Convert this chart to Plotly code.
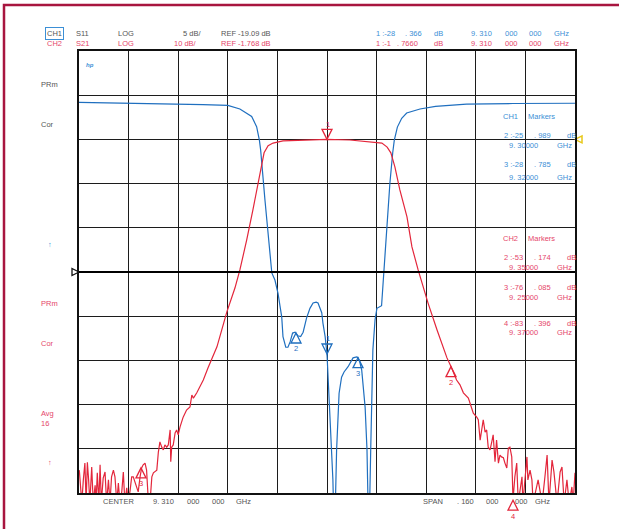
import plotly.graph_objects as go

# ---------------- data ----------------
center_ghz = 9.31
span_ghz = 0.16
ch1_ref_db, ch1_scale = -19.09, 5      # S11, 5 dB/div, ref at div 5 from top
ch2_ref_db, ch2_scale = -1.768, 10     # S21, 10 dB/div, ref at div 2 from top

s11_freq = [9.2300, 9.2400, 9.2500, 9.2600, 9.2700, 9.2780, 9.2819, 9.2857, 9.2873, 9.2882,
            9.2886, 9.2900, 9.2914, 9.2922, 9.2932, 9.2942, 9.2954, 9.2958, 9.2967, 9.2974,
            9.2981, 9.2989, 9.2997, 9.3006, 9.3015, 9.3023, 9.3034, 9.3045, 9.3055, 9.3065,
            9.3071, 9.3083, 9.3087, 9.3094, 9.3100, 9.3106, 9.3113, 9.3119, 9.3124, 9.3131,
            9.3139, 9.3147, 9.3155, 9.3168, 9.3184, 9.3196, 9.3200, 9.3206, 9.3212, 9.3223,
            9.3229, 9.3235, 9.3241, 9.3248, 9.3255, 9.3261, 9.3276, 9.3281, 9.3289, 9.3293,
            9.3303, 9.3312, 9.3317, 9.3327, 9.3341, 9.3357, 9.3400, 9.3450, 9.3550, 9.3700,
            9.3900]
s11_db = [0.10, 0.05, 0.00, -0.05, -0.15, -0.25, -0.65, -1.5, -2.65, -4.2,
          -5.3, -11.0, -16.6, -19.2, -20.0, -21.5, -24.2, -26.4, -27.6, -27.6,
          -27.0, -26.0, -25.9, -26.3, -26.4, -25.9, -24.3, -23.2, -22.6, -22.5,
          -22.6, -23.7, -24.9, -26.4, -28.37, -32.4, -38.1, -42.6, -50.0, -39.2,
          -32.8, -31.0, -30.4, -29.8, -28.8, -28.7, -28.79, -29.3, -30.2, -34.4,
          -39.2, -50.0, -39.2, -27.9, -24.5, -23.2, -22.9, -20.3, -16.6, -14.7,
          -9.0, -5.6, -4.2, -2.7, -1.7, -1.1, -0.65, -0.35, -0.1, -0.03,
          0.0]

s21_freq = [9.2301, 9.2309, 9.2314, 9.2319, 9.2323, 9.2327, 9.2331, 9.2335, 9.2341, 9.2346,
            9.2352, 9.2355, 9.2359, 9.2364, 9.2368, 9.2372, 9.2378, 9.2384, 9.2389, 9.2395,
            9.2400, 9.2405, 9.2411, 9.2416, 9.2422, 9.2427, 9.2432, 9.2438, 9.2443, 9.2448,
            9.2454, 9.2459, 9.2465, 9.2470, 9.2475, 9.2481, 9.2486, 9.2491, 9.2497, 9.2502,
            9.2507, 9.2513, 9.2518, 9.2524, 9.2529, 9.2535, 9.2540, 9.2545, 9.2551, 9.2556,
            9.2561, 9.2567, 9.2572, 9.2577, 9.2583, 9.2588, 9.2594, 9.2596, 9.2599, 9.2604,
            9.2610, 9.2615, 9.2620, 9.2626, 9.2636, 9.2647, 9.2658, 9.2664, 9.2669, 9.2680,
            9.2690, 9.2701, 9.2716, 9.2745, 9.2777, 9.2803, 9.2819, 9.2832, 9.2841, 9.2861,
            9.2877, 9.2890, 9.2897, 9.2910, 9.2926, 9.2958, 9.3035, 9.3100, 9.3174, 9.3248,
            9.3277, 9.3294, 9.3306, 9.3319, 9.3335, 9.3358, 9.3374, 9.3394, 9.3426, 9.3455,
            9.3487, 9.3500, 9.3518, 9.3529, 9.3540, 9.3556, 9.3561, 9.3572, 9.3583, 9.3588,
            9.3594, 9.3599, 9.3604, 9.3610, 9.3615, 9.3620, 9.3626, 9.3631, 9.3636, 9.3642,
            9.3647, 9.3653, 9.3658, 9.3663, 9.3669, 9.3674, 9.3680, 9.3685, 9.3690, 9.3696,
            9.3700, 9.3706, 9.3712, 9.3717, 9.3729, 9.3732, 9.3745, 9.3748, 9.3755, 9.3761,
            9.3765, 9.3781, 9.3794, 9.3803, 9.3810, 9.3816, 9.3826, 9.3832, 9.3842, 9.3852,
            9.3858, 9.3865, 9.3874, 9.3881, 9.3890, 9.3894, 9.3900]
s21_db = [-76.6, -84, -78.8, -75.0, -84, -74.8, -78.8, -84, -75.9, -84,
          -80.0, -84, -77.2, -84, -75.4, -84, -78.4, -77.0, -84, -78.8,
          -84, -78.1, -76.6, -78.1, -84, -79.5, -84, -81.5, -77.0, -84,
          -80.6, -84, -81.1, -78.1, -78.1, -79.5, -80.4, -81.5, -78.1, -76.1,
          -75.4, -75.0, -76.6, -84, -84, -78.1, -77.2, -77.0, -76.6, -72.5,
          -70.2, -71.4, -72.0, -70.9, -71.4, -70.9, -67.5, -74.7, -71.4, -70.9,
          -68.2, -67.5, -68.6, -66.8, -64.6, -63.0, -62.3, -59.6, -60.3, -59.1,
          -57.8, -56.2, -53.5, -48.7, -40.8, -35.4, -31.3, -26.8, -24.5, -17.7,
          -11.6, -7.1, -4.8, -3.2, -2.6, -2.1, -1.9, -1.766, -1.9, -2.3,
          -2.6, -3.5, -4.8, -8.0, -13.2, -19.3, -26.1, -31.3, -38.8, -44.9,
          -51.2, -53.174, -56.2, -57.3, -59.1, -60.3, -61.4, -63.7, -64.6, -65.2,
          -69.8, -66.8, -65.2, -68.0, -67.5, -71.4, -72.0, -70.4, -68.6, -74.7,
          -69.8, -75.0, -73.2, -73.6, -73.8, -75.0, -76.1, -71.6, -71.4, -73.6,
          -83.4, -78.1, -75.0, -84, -78.1, -84, -73.6, -78.8, -76.6, -78.8,
          -84, -78.8, -84, -78.1, -73.2, -84, -74.3, -77.0, -84, -77.0,
          -75.9, -84, -78.8, -84, -80.4, -84, -77.2]

ch1_mk_names = ["1", "2", "3"]
ch1_mk_freq = [9.310, 9.300, 9.320]
ch1_mk_db = [-28.366, -25.989, -28.785]

ch2_mk_names = ["1", "2", "3", "4"]
ch2_mk_freq = [9.310, 9.350, 9.250, 9.370]
ch2_mk_db = [-1.766, -53.174, -76.085, -83.396]

# ---------------- styling / layout ----------------
W, H = 619, 529
L, R, T, B = 79, 44, 51, 36
PW, PH = W - L - R, H - T - B

BLUE = "#1f6fbf"
BLUE_T = "#3b8fd6"
RED = "#e3263b"
RED_T = "#e5466a"
GRAY = "#555555"
FONT = "Liberation Sans, Arial, sans-serif"
FS = 7.5

f0 = center_ghz - span_ghz / 2
f1 = center_ghz + span_ghz / 2
ch1_top = ch1_ref_db + 5 * ch1_scale
ch1_bot = ch1_ref_db - 5 * ch1_scale
ch2_top = ch2_ref_db + 2 * ch2_scale
ch2_bot = ch2_ref_db - 8 * ch2_scale


def px(x):
    return (x - L) / PW


def py(y):
    return (H - B - y) / PH


fig = go.Figure()

fig.add_trace(go.Scatter(x=s11_freq, y=s11_db, mode="lines",
                         line=dict(color=BLUE, width=1.2), yaxis="y", hoverinfo="skip"))
fig.add_trace(go.Scatter(x=s21_freq, y=s21_db, mode="lines",
                         line=dict(color=RED, width=1.2), yaxis="y2", hoverinfo="skip"))

# reference position indicators
fig.add_trace(go.Scatter(
    x=[f0], y=[ch1_ref_db], mode="markers", yaxis="y", cliponaxis=False,
    marker=dict(symbol="arrow-right-open", size=7, color="#111",
                line=dict(color="#111", width=1.3)), hoverinfo="skip"))
fig.add_trace(go.Scatter(
    x=[f1], y=[ch2_ref_db], mode="markers", yaxis="y2", cliponaxis=False,
    marker=dict(symbol="arrow-left-open", size=7, color="#e8c81a",
                line=dict(color="#e8c81a", width=1.5)), hoverinfo="skip"))

ann = []
shapes = []


def txt(x, y, s, color, size=FS, xanchor="left", **kw):
    d = dict(x=px(x), y=py(y), xref="paper", yref="paper", text=s,
             showarrow=False, xanchor=xanchor, yanchor="middle",
             borderwidth=0, borderpad=0,
             font=dict(family=FONT, size=size, color=color))
    d.update(kw)
    ann.append(d)


# marker triangles and labels (paper coordinates derived from the data)
def markers(freqs, dbs, names, bot, top, color):
    for f, d, n in zip(freqs, dbs, names):
        down = (n == "1")
        xp = (f - f0) / (f1 - f0)
        yp = (d - bot) / (top - bot)
        path = "M0,0 L-5,10 L5,10 Z" if down else "M0,0 L-5,-10 L5,-10 Z"
        shapes.append(dict(type="path", xref="paper", yref="paper",
                           xsizemode="pixel", ysizemode="pixel",
                           xanchor=xp, yanchor=yp, path=path,
                           line=dict(color=color, width=1.3), layer="above"))
        ann.append(dict(x=xp, y=yp, xref="paper", yref="paper", text=n, showarrow=False,
                        xanchor="center", yanchor="middle", borderwidth=0, borderpad=0,
                        yshift=(15 if down else -16), xshift=(1 if down else 0),
                        font=dict(family=FONT, size=FS, color=color)))


markers(ch1_mk_freq, ch1_mk_db, ch1_mk_names, ch1_bot, ch1_top, BLUE)
markers(ch2_mk_freq, ch2_mk_db, ch2_mk_names, ch2_bot, ch2_top, RED)

# header
txt(54, 34, "CH1", GRAY, xanchor="center", bordercolor=BLUE_T, borderwidth=1, borderpad=1)
txt(76, 34, "S11", GRAY)
txt(118, 34, "LOG", GRAY)
txt(201, 34, "5 dB/", GRAY, xanchor="right")
txt(221, 34, "REF -19.09 dB", GRAY)
txt(54, 43, "CH2", RED_T, xanchor="center")
txt(76, 43, "S21", RED_T)
txt(118, 43, "LOG", RED_T)
txt(197, 43, "10 dB/", RED_T, xanchor="right")
txt(221, 43, "REF -1.768 dB", RED_T)

txt(376, 34, "1 :-28", BLUE_T)
txt(405, 34, ". 366", BLUE_T)
txt(434, 34, "dB", BLUE_T)
txt(471, 34, "9. 310", BLUE_T)
txt(505, 34, "000", BLUE_T)
txt(529, 34, "000", BLUE_T)
txt(554, 34, "GHz", BLUE_T)
txt(376, 43, "1 :-1", RED_T)
txt(397, 43, ". 7660", RED_T)
txt(434, 43, "dB", RED_T)
txt(471, 43, "9. 310", RED_T)
txt(505, 43, "000", RED_T)
txt(529, 43, "000", RED_T)
txt(554, 43, "GHz", RED_T)

# left annotations
txt(41, 85, "PRm", GRAY)
txt(41, 125, "Cor", GRAY)
txt(50, 244, "↑", BLUE_T, xanchor="center")
txt(41, 303, "PRm", RED_T)
txt(41, 343, "Cor", RED_T)
txt(41, 413, "Avg", RED_T)
txt(41, 423, "16", RED_T)
txt(50, 462, "↑", RED_T, xanchor="center")
txt(86, 65, "<b><i>hp</i></b>", BLUE_T, size=6)

# right marker tables
txt(503, 116, "CH1", BLUE_T)
txt(528, 116, "Markers", BLUE_T)
rows1 = [(135, "2 :-25", ". 989", 145, "9. 30000"),
         (164, "3 :-28", ". 785", 177, "9. 32000")]
for y1, a, b, y2, c in rows1:
    txt(504, y1, a, BLUE_T)
    txt(534, y1, b, BLUE_T)
    txt(567, y1, "dB", BLUE_T)
    txt(509, y2, c, BLUE_T)
    txt(557, y2, "GHz", BLUE_T)

txt(503, 238, "CH2", RED_T)
txt(528, 238, "Markers", RED_T)
rows2 = [(257, "2 :-53", ". 174", 267, "9. 35000"),
         (287, "3 :-76", ". 085", 297, "9. 25000"),
         (323, "4 :-83", ". 396", 332, "9. 37000")]
for y1, a, b, y2, c in rows2:
    txt(504, y1, a, RED_T)
    txt(534, y1, b, RED_T)
    txt(567, y1, "dB", RED_T)
    txt(509, y2, c, RED_T)
    txt(557, y2, "GHz", RED_T)

# bottom
txt(103, 501, "CENTER", GRAY)
txt(153, 501, "9. 310", GRAY)
txt(187, 501, "000", GRAY)
txt(212, 501, "000", GRAY)
txt(236, 501, "GHz", GRAY)
txt(423, 501, "SPAN", GRAY)
txt(457, 501, ". 160", GRAY)
txt(486, 501, "000", GRAY)
txt(515, 501, "000", GRAY)
txt(535, 501, "GHz", GRAY)

shapes += [
    # CH1 reference line
    dict(type="line", xref="paper", yref="y", x0=0, x1=1, y0=ch1_ref_db, y1=ch1_ref_db,
         line=dict(color="#000", width=2), layer="above"),
    # outer frame (left and top visible)
    dict(type="rect", xref="paper", yref="paper", x0=px(4), x1=px(660), y0=py(5), y1=py(560),
         line=dict(color="#a8153f", width=2.5)),
]

GRID = "#1c1c1c"
fig.update_layout(
    width=W, height=H,
    margin=dict(l=L, r=R, t=T, b=B, pad=0),
    paper_bgcolor="white", plot_bgcolor="white",
    showlegend=False,
    xaxis=dict(range=[f0, f1], showgrid=True, gridcolor=GRID, gridwidth=1.3,
               tick0=f0, dtick=span_ghz / 10, showticklabels=False, ticks="",
               zeroline=False, showline=True, mirror=True, linecolor="#111", linewidth=1.5),
    yaxis=dict(range=[ch1_bot, ch1_top], showgrid=True, gridcolor=GRID, gridwidth=1.3,
               tick0=ch1_bot, dtick=ch1_scale, showticklabels=False, ticks="",
               zeroline=False, showline=True, mirror=True, linecolor="#111", linewidth=1.5),
    yaxis2=dict(range=[ch2_bot, ch2_top], overlaying="y", showgrid=False,
                showticklabels=False, ticks="", zeroline=False, showline=False),
    annotations=ann,
    shapes=shapes,
    font=dict(family=FONT),
)

fig.write_html("out.html", config={"displayModeBar": False},
               post_script="document.body.style.margin='0px';document.body.style.overflow='hidden';")
